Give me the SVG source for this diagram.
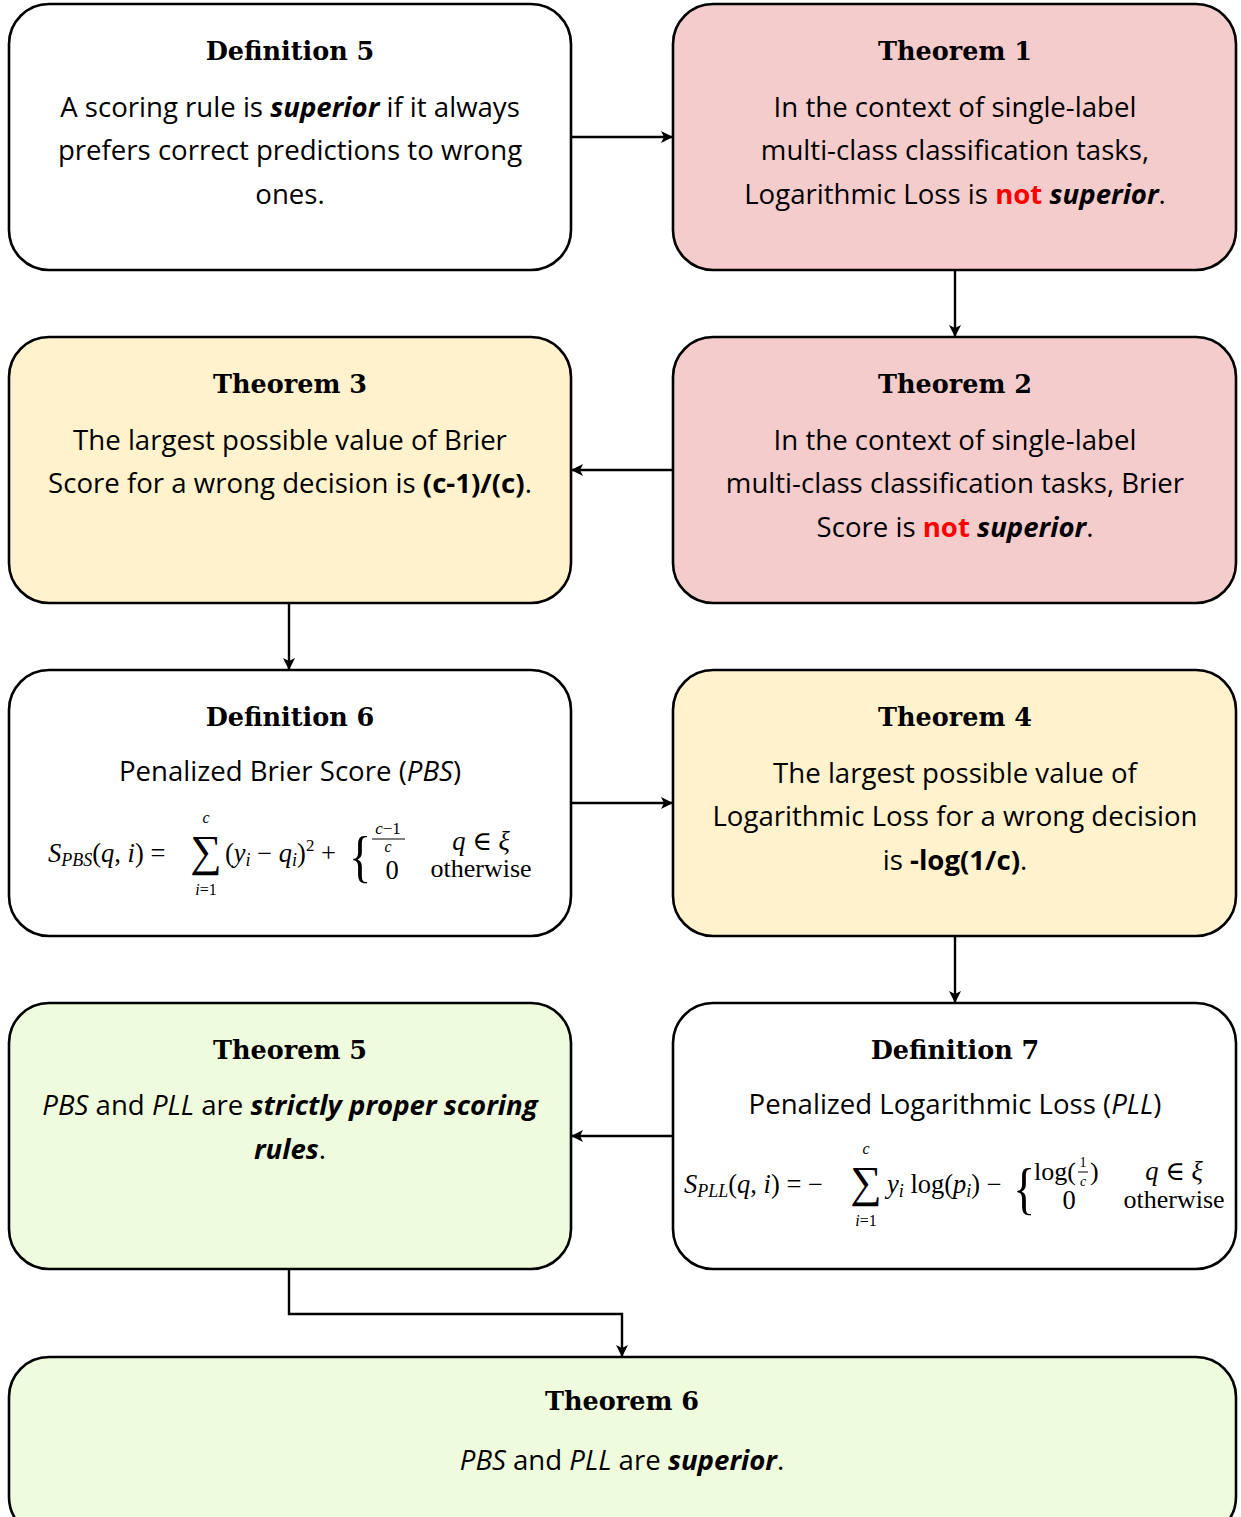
<svg xmlns="http://www.w3.org/2000/svg" width="1241" height="1517" viewBox="0 0 1241 1517">
<defs>
<marker id="arr" viewBox="0 0 12 12" refX="11" refY="6" markerWidth="12" markerHeight="12" markerUnits="userSpaceOnUse" orient="auto">
<path d="M0,0 L12,6 L0,12 L3,6 Z" fill="#000"/>
</marker>
<style>
.box{stroke:#000;stroke-width:2.6}
.w{fill:#fff}.p{fill:#f4cccc}.y{fill:#fff2cc}.g{fill:#effbdd}
.t{font-family:"DejaVu Serif",serif;font-weight:bold;font-size:25.5px;text-anchor:middle;fill:#000}
.b{font-family:"Open Sans","Liberation Sans",sans-serif;font-size:27.6px;text-anchor:middle;fill:#000}
.bi{font-weight:bold;font-style:italic}
.bo{font-weight:bold}
.it{font-style:italic}
.red{fill:#ff0000;font-weight:bold}
.m{font-family:"Liberation Serif","DejaVu Serif",serif;fill:#000}
.mi{font-style:italic}
.c{fill:none;stroke:#000;stroke-width:2.4}
</style>
</defs>
<g id="connectors">
<line class="c" x1="571" y1="137" x2="672" y2="137" marker-end="url(#arr)"/>
<line class="c" x1="955" y1="270" x2="955" y2="336" marker-end="url(#arr)"/>
<line class="c" x1="673" y1="470" x2="572" y2="470" marker-end="url(#arr)"/>
<line class="c" x1="289" y1="603" x2="289" y2="669" marker-end="url(#arr)"/>
<line class="c" x1="571" y1="803" x2="672" y2="803" marker-end="url(#arr)"/>
<line class="c" x1="955" y1="936" x2="955" y2="1002" marker-end="url(#arr)"/>
<line class="c" x1="673" y1="1136" x2="572" y2="1136" marker-end="url(#arr)"/>
<polyline class="c" points="289,1269 289,1314 622,1314 622,1356" marker-end="url(#arr)"/>
</g>
<g id="def5">
<rect class="box w" x="9" y="4" width="562" height="266" rx="40"/>
<text class="t" x="290" y="60">Definition 5</text>
<text class="b" x="290" y="117">A scoring rule is <tspan class="bi">superior</tspan> if it always</text>
<text class="b" x="290" y="160">prefers correct predictions to wrong</text>
<text class="b" x="290" y="204">ones.</text>
</g>
<g id="thm1">
<rect class="box p" x="673" y="4" width="563" height="266" rx="40"/>
<text class="t" x="955" y="60">Theorem 1</text>
<text class="b" x="955" y="117">In the context of single-label</text>
<text class="b" x="955" y="160">multi-class classification tasks,</text>
<text class="b" x="955" y="204">Logarithmic Loss is <tspan class="red">not</tspan> <tspan class="bi">superior</tspan>.</text>
</g>
<g id="thm3">
<rect class="box y" x="9" y="337" width="562" height="266" rx="40"/>
<text class="t" x="290" y="393">Theorem 3</text>
<text class="b" x="290" y="450">The largest possible value of Brier</text>
<text class="b" x="290" y="493">Score for a wrong decision is <tspan class="bo">(c-1)/(c)</tspan>.</text>
</g>
<g id="thm2">
<rect class="box p" x="673" y="337" width="563" height="266" rx="40"/>
<text class="t" x="955" y="393">Theorem 2</text>
<text class="b" x="955" y="450">In the context of single-label</text>
<text class="b" x="955" y="493">multi-class classification tasks, Brier</text>
<text class="b" x="955" y="537">Score is <tspan class="red">not</tspan> <tspan class="bi">superior</tspan>.</text>
</g>
<g id="def6">
<rect class="box w" x="9" y="670" width="562" height="266" rx="40"/>
<text class="t" x="290" y="726">Definition 6</text>
<text class="b" x="290" y="781">Penalized Brier Score (<tspan class="it">PBS</tspan>)</text>
<text class="m" x="48" y="862" style="font-size:26.5px"><tspan class="mi">S</tspan><tspan class="mi" style="font-size:18px" dy="4">PBS</tspan><tspan dy="-4">(</tspan><tspan class="mi">q</tspan>, <tspan class="mi">i</tspan>) =</text>
<text class="m" x="206" y="866" style="font-size:44px" text-anchor="middle">∑</text>
<text class="m mi" x="206" y="823" style="font-size:16px" text-anchor="middle">c</text>
<text class="m" x="206" y="895" style="font-size:16px" text-anchor="middle"><tspan class="mi">i</tspan>=1</text>
<text class="m" x="225" y="862" style="font-size:26.5px">(<tspan class="mi">y</tspan><tspan class="mi" style="font-size:18px" dy="4">i</tspan><tspan dy="-4"> − </tspan><tspan class="mi">q</tspan><tspan class="mi" style="font-size:18px" dy="4">i</tspan><tspan dy="-4">)</tspan><tspan style="font-size:17px" dy="-11">2</tspan><tspan dy="11"> +</tspan></text>
<text class="m" x="0" y="876" style="font-size:58px" transform="translate(349,0) scale(0.8,1)">{</text>
<text class="m" x="388" y="834" style="font-size:17px" text-anchor="middle"><tspan class="mi">c</tspan>−1</text>
<line x1="372" y1="839" x2="405" y2="839" stroke="#000" stroke-width="1"/>
<text class="m mi" x="388" y="852" style="font-size:16px" text-anchor="middle">c</text>
<text class="m" x="392" y="879" style="font-size:26.5px" text-anchor="middle">0</text>
<text class="m" x="481" y="850" style="font-size:26.5px" text-anchor="middle"><tspan class="mi">q</tspan> ∈ <tspan class="mi">ξ</tspan></text>
<text class="m" x="481" y="877" style="font-size:26px" text-anchor="middle">otherwise</text>
</g>
<g id="thm4">
<rect class="box y" x="673" y="670" width="563" height="266" rx="40"/>
<text class="t" x="955" y="726">Theorem 4</text>
<text class="b" x="955" y="783">The largest possible value of</text>
<text class="b" x="955" y="826">Logarithmic Loss for a wrong decision</text>
<text class="b" x="955" y="870">is <tspan class="bo">-log(1/c)</tspan>.</text>
</g>
<g id="thm5">
<rect class="box g" x="9" y="1003" width="562" height="266" rx="40"/>
<text class="t" x="290" y="1059">Theorem 5</text>
<text class="b" x="290" y="1115"><tspan class="it">PBS</tspan> and <tspan class="it">PLL</tspan> are <tspan class="bi">strictly proper scoring</tspan></text>
<text class="b" x="290" y="1159"><tspan class="bi">rules</tspan>.</text>
</g>
<g id="def7">
<rect class="box w" x="673" y="1003" width="563" height="266" rx="40"/>
<text class="t" x="955" y="1059">Definition 7</text>
<text class="b" x="955" y="1114">Penalized Logarithmic Loss (<tspan class="it">PLL</tspan>)</text>
<text class="m" x="684" y="1193" style="font-size:26.5px"><tspan class="mi">S</tspan><tspan class="mi" style="font-size:18px" dy="4">PLL</tspan><tspan dy="-4">(</tspan><tspan class="mi">q</tspan>, <tspan class="mi">i</tspan>) = −</text>
<text class="m" x="866" y="1197" style="font-size:44px" text-anchor="middle">∑</text>
<text class="m mi" x="866" y="1154" style="font-size:16px" text-anchor="middle">c</text>
<text class="m" x="866" y="1226" style="font-size:16px" text-anchor="middle"><tspan class="mi">i</tspan>=1</text>
<text class="m" x="887" y="1193" style="font-size:26.5px"><tspan class="mi">y</tspan><tspan class="mi" style="font-size:18px" dy="4">i</tspan><tspan dy="-4"> log(</tspan><tspan class="mi">p</tspan><tspan class="mi" style="font-size:18px" dy="4">i</tspan><tspan dy="-4">) −</tspan></text>
<text class="m" x="0" y="1208" style="font-size:58px" transform="translate(1013,0) scale(0.8,1)">{</text>
<text class="m" x="1034" y="1180" style="font-size:26px">log(</text>
<text class="m" x="1083" y="1167" style="font-size:14px" text-anchor="middle">1</text>
<line x1="1078" y1="1172" x2="1088" y2="1172" stroke="#000" stroke-width="1"/>
<text class="m mi" x="1083" y="1186" style="font-size:14px" text-anchor="middle">c</text>
<text class="m" x="1090" y="1180" style="font-size:26px">)</text>
<text class="m" x="1069" y="1209" style="font-size:26.5px" text-anchor="middle">0</text>
<text class="m" x="1174" y="1180" style="font-size:26.5px" text-anchor="middle"><tspan class="mi">q</tspan> ∈ <tspan class="mi">ξ</tspan></text>
<text class="m" x="1174" y="1208" style="font-size:26px" text-anchor="middle">otherwise</text>
</g>
<g id="thm6">
<rect class="box g" x="9" y="1357" width="1227" height="180" rx="40"/>
<text class="t" x="622" y="1410">Theorem 6</text>
<text class="b" x="622" y="1470"><tspan class="it">PBS</tspan> and <tspan class="it">PLL</tspan> are <tspan class="bi">superior</tspan>.</text>
</g>
</svg>
